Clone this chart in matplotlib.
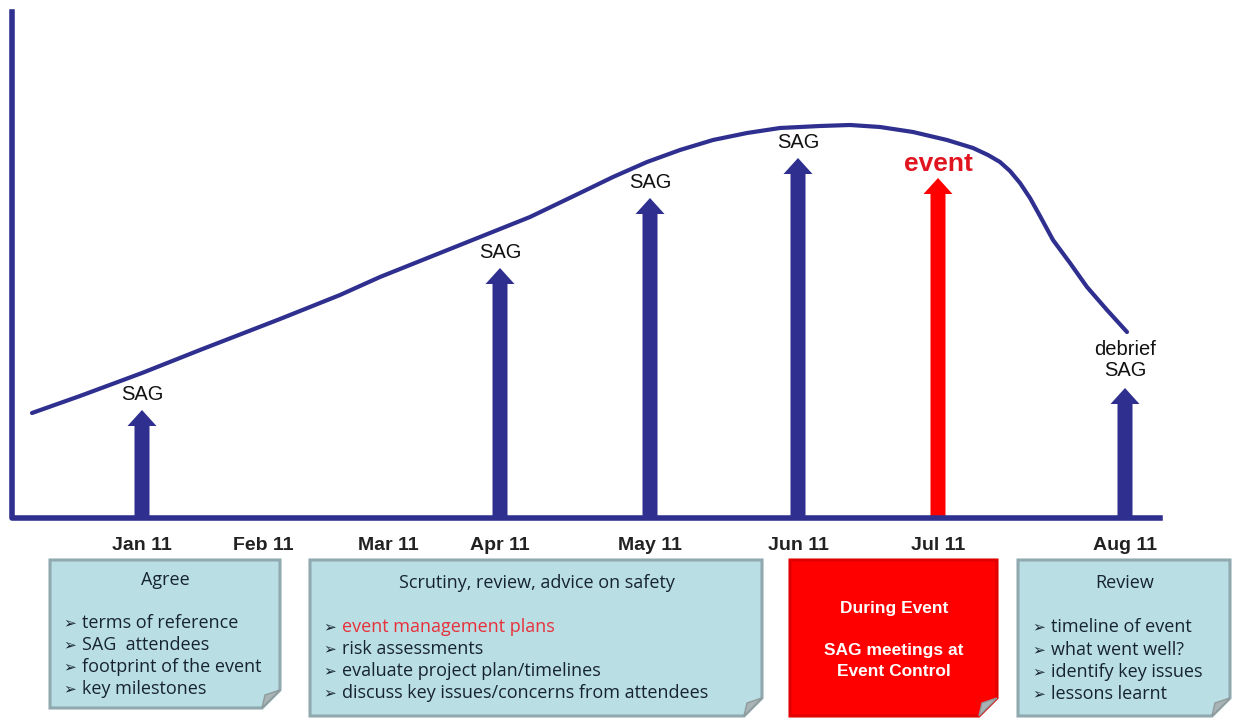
import matplotlib
matplotlib.use("Agg")
import matplotlib.pyplot as plt
from matplotlib.patches import FancyArrow, Polygon

# timeline months and where they sit along the axis
months = ["Jan 11", "Feb 11", "Mar 11", "Apr 11", "May 11", "Jun 11", "Jul 11", "Aug 11"]
month_x = [142, 263, 388, 500, 650, 798, 938, 1125]

# meetings: month, arrow tip level, label
meet_month = ["Jan 11", "Apr 11", "May 11", "Jun 11", "Jul 11", "Aug 11"]
meet_tip = [410, 268, 198, 158, 178, 388]
meet_label = ["SAG", "SAG", "SAG", "SAG", "event", "debrief\nSAG"]
meet_label_y = [395, 253, 182, 143, 164, 360]
meet_is_event = [False, False, False, False, True, False]

# activity curve
curve_x = [32, 80, 142, 200, 280, 340, 380, 430, 480, 530, 580, 613, 647, 680, 713,
           747, 780, 820, 850, 880, 913, 947, 973, 988, 1000, 1010, 1020, 1030, 1040,
           1053, 1070, 1087, 1107, 1127]
curve_y = [413, 396, 373, 350, 319, 295, 277, 257, 237, 217, 193, 177, 162, 150, 140,
           133, 128, 126, 125, 127, 132, 140, 148, 155, 162, 171, 183, 198, 216,
           240, 263, 287, 310, 332]

# note boxes
box_title = ["Agree", "Scrutiny, review, advice on safety", "During Event", "Review"]
box_items = [
    ["terms of reference", "SAG  attendees", "footprint of the event", "key milestones"],
    ["event management plans", "risk assessments", "evaluate project plan/timelines",
     "discuss key issues/concerns from attendees"],
    ["SAG meetings at", "Event Control"],
    ["timeline of event", "what went well?", "identify key issues", "lessons learnt"],
]

NAVY = "#2E2F8F"
RED = "#FF0000"
NOTE = "#B9DEE4"
EDGE = "#8FA9AE"
TXT = "#17242F"
ARIAL = ["Liberation Sans", "DejaVu Sans"]
CAL = ["Open Sans", "DejaVu Sans"]

fig = plt.figure(figsize=(12.36, 7.18), dpi=100)
ax = fig.add_axes([0, 0, 1, 1])
ax.set_xlim(0, 1236)
ax.set_ylim(718, 0)
ax.axis("off")

# curve
ax.plot(curve_x, curve_y, color=NAVY, lw=3, solid_capstyle="round", solid_joinstyle="round")

# arrows + labels
for m, tip, lab, ly, ev in zip(meet_month, meet_tip, meet_label, meet_label_y, meet_is_event):
    x = month_x[months.index(m)]
    col = RED if ev else NAVY
    ax.add_patch(FancyArrow(x, 516, 0, tip - 516, width=15, head_width=29, head_length=16,
                            length_includes_head=True, color=col, lw=0))
    if ev:
        ax.text(x, ly, lab, ha="center", va="center", color="#E0151F", fontsize=19,
                fontweight="bold", family=ARIAL)
    else:
        ax.text(x, ly, lab, ha="center", va="center", color="#111111", fontsize=14.5,
                family=ARIAL, linespacing=1.15)

# axis lines
ax.plot([12, 12, 1160], [12, 518, 518], color=NAVY, lw=4, solid_joinstyle="round")

# month labels
for m, x in zip(months, month_x):
    ax.text(x, 550, m, ha="center", va="baseline", fontsize=14, fontweight="bold",
            color="#222222", family=ARIAL)


def note(l, r, t, b, fill, edge):
    f = 18
    ax.add_patch(Polygon([(l, t), (r, t), (r, b - f), (r - f, b), (l, b)], closed=True,
                         facecolor=fill, edgecolor=edge, lw=2.2))
    ax.add_patch(Polygon([(r, b - f), (r - f, b), (r - f + 3, b - f + 5)], closed=True,
                         facecolor="#A9B4B6", edgecolor="#8E9A9C", lw=1))


note(50, 280, 560, 708, NOTE, EDGE)
note(310, 762, 560, 716, NOTE, EDGE)
note(790, 997, 560, 716, RED, "#E00000")
note(1018, 1230, 560, 716, NOTE, EDGE)

box_cx = [165, 537, 894, 1125]
box_title_y = [580, 583, 608, 583]
box_item_x = [63, 323, None, 1032]
box_item_y = [[623, 645, 667, 689], [627, 649, 671, 693], [650, 672], [627, 650, 672, 694]]

for i in range(4):
    if i == 2:
        ax.text(box_cx[i], box_title_y[i], box_title[i], ha="center", va="center",
                color="white", fontsize=12.5, fontweight="bold", family=ARIAL)
        for item, y in zip(box_items[i], box_item_y[i]):
            ax.text(box_cx[i], y, item, ha="center", va="center", color="white",
                    fontsize=12.5, fontweight="bold", family=ARIAL)
        continue
    ax.text(box_cx[i], box_title_y[i], box_title[i], ha="center", va="center",
            color=TXT, fontsize=13, family=CAL)
    for j, (item, y) in enumerate(zip(box_items[i], box_item_y[i])):
        col = "#E8303A" if (i == 1 and j == 0) else TXT
        ax.text(box_item_x[i], y, "\u27a2", ha="left", va="center", color=TXT,
                fontsize=11, family=["DejaVu Sans"])
        ax.text(box_item_x[i] + 19, y, item, ha="left", va="center", color=col,
                fontsize=13, family=CAL)

fig.savefig("out.png", dpi=100, facecolor="white")
